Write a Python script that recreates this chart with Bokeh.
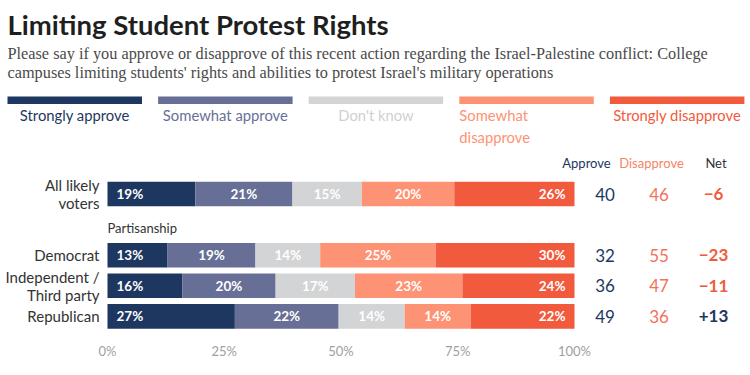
from bokeh.plotting import figure
from bokeh.models import Range1d, ColumnDataSource
from bokeh.core.properties import value
from bokeh.embed import file_html
from bokeh.resources import INLINE

# ---------------- data ----------------
groups = ["All likely voters", "Democrat", "Independent / Third party", "Republican"]
group_labels = ["All likely\nvoters", "Democrat", "Independent /\nThird party", "Republican"]
responses = ["Strongly approve", "Somewhat approve", "Don't know",
             "Somewhat disapprove", "Strongly disapprove"]
strongly_approve = [19, 13, 16, 27]
somewhat_approve = [21, 19, 20, 22]
dont_know = [15, 14, 17, 14]
somewhat_disapprove = [20, 25, 23, 14]
strongly_disapprove = [26, 30, 24, 22]
approve_total = [40, 32, 36, 49]
disapprove_total = [46, 55, 47, 36]
net = [-6, -23, -11, 13]
ticks = [0, 25, 50, 75, 100]
tick_labels = ["0%", "25%", "50%", "75%", "100%"]
title = "Limiting Student Protest Rights"
subtitle = ["Please say if you approve or disapprove of this recent action regarding the Israel-Palestine conflict: College",
            "campuses limiting students' rights and abilities to protest Israel's military operations"]
subhead = "Partisanship"

# ---------------- style / layout ----------------
colors = ["#1e3761", "#676f97", "#d3d4d5", "#fd9274", "#f15a3c"]
legend_text_colors = ["#1e3761", "#676f97", "#d0d0d0", "#fd9274", "#f15a3c"]
NAVY = "#1e3761"
RED = "#f15a3c"
SALMON = "#f2725a"
SANS = value("Lato")
SERIF = value("Liberation Serif")

W, H = 750, 375
X0, PXU = 107, 4.67          # pixel of 0 %, pixels per %
Y0, ROW = 193.5, 30.6        # pixel of slot 0, pixels per slot
row_slot = [0, 2, 3, 4]      # slot 1 carries the "Partisanship" subhead
BAR_H = 24.6 / ROW
PAD = 9 / PXU

p = figure(width=W, height=H, output_backend="svg", toolbar_location=None,
           x_range=Range1d(-X0 / PXU, (W - X0) / PXU),
           y_range=Range1d((H - Y0) / ROW, -Y0 / ROW),
           min_border=0, outline_line_color=None,
           x_axis_location=None, y_axis_location=None, title=None)
p.extra_x_ranges = {"px": Range1d(0, W)}
p.extra_y_ranges = {"px": Range1d(H, 0)}
p.xgrid.visible = False
p.ygrid.visible = False
p.background_fill_color = "white"
p.border_fill_color = "white"

series = [strongly_approve, somewhat_approve, dont_know, somewhat_disapprove, strongly_disapprove]
totals = [sum(s[i] for s in series) for i in range(len(groups))]

# ---- stacked bars ----
lab_x, lab_y, lab_t, lab_a = [], [], [], []
cum = [0.0] * len(groups)
for k, (resp, vals) in enumerate(zip(responses, series)):
    left = [cum[i] for i in range(len(groups))]
    right = [cum[i] + vals[i] * 100 / totals[i] for i in range(len(groups))]
    cum = right
    p.hbar(y=row_slot, left=left, right=right, height=BAR_H,
           fill_color=colors[k], line_color=None)
    for i in range(len(groups)):
        if k == 0:
            lab_x.append(left[i] + PAD); lab_a.append("left")
        elif k == len(series) - 1:
            lab_x.append(right[i] - PAD); lab_a.append("right")
        else:
            lab_x.append((left[i] + right[i]) / 2); lab_a.append("center")
        lab_y.append(row_slot[i])
        lab_t.append(f"{vals[i]}%")

p.text(x="x", y="y", text="t", text_align="a",
       source=ColumnDataSource(dict(x=lab_x, y=lab_y, t=lab_t, a=lab_a)),
       text_baseline="middle", text_color="white", text_font=SANS,
       text_font_size="13.5px", text_font_style="bold")

# ---- row labels ----
p.text(x=[X0 - 8] * len(groups), y=row_slot, text=group_labels,
       x_range_name="px", text_align="right", text_baseline="middle",
       text_color="#333333", text_font=SANS, text_font_size="15px",
       text_line_height=1.0)
p.text(x=[X0], y=[227], text=[subhead], x_range_name="px", y_range_name="px",
       text_align="left", text_baseline="middle", text_color="#333333",
       text_font=SANS, text_font_size="13px")

# ---- value columns ----
col_hdr = ["Approve", "Disapprove", "Net"]
col_hdr_x = [586, 651, 715.5]
col_hdr_c = [NAVY, "#f58468", "#333333"]
p.text(x=col_hdr_x, y=[162.7] * 3, text=col_hdr, x_range_name="px", y_range_name="px",
       text_align="center", text_baseline="middle", text_color=col_hdr_c,
       text_font=SANS, text_font_size="13px")
p.text(x=[604.5] * len(groups), y=row_slot, text=[str(v) for v in approve_total],
       x_range_name="px", text_align="center", text_baseline="middle",
       text_color=NAVY, text_font=SANS, text_font_size="17px")
p.text(x=[658.5] * len(groups), y=row_slot, text=[str(v) for v in disapprove_total],
       x_range_name="px", text_align="center", text_baseline="middle",
       text_color=SALMON, text_font=SANS, text_font_size="17px")
p.text(x=[713] * len(groups), y=row_slot,
       text=[("+" if v > 0 else "\u2212") + str(abs(v)) for v in net],
       text_color=[NAVY if v > 0 else RED for v in net],
       x_range_name="px", text_align="center", text_baseline="middle",
       text_font=SANS, text_font_size="17px", text_font_style="bold")

# ---- x tick labels ----
p.text(x=ticks, y=[350.5] * len(ticks), text=tick_labels, y_range_name="px",
       text_align="center", text_baseline="middle", text_color="#a0a0a0",
       text_font=SANS, text_font_size="13px")

# ---- title / subtitle ----
p.text(x=[7], y=[24], text=[title], x_range_name="px", y_range_name="px",
       text_align="left", text_baseline="alphabetic", text_color="#1f1f1f",
       text_font=SANS, text_font_size="27.5px", text_font_style="bold")
p.text(x=[7, 7], y=[52.5, 71.5], text=subtitle, x_range_name="px", y_range_name="px",
       text_align="left", text_baseline="alphabetic", text_color="#4a4a4a",
       text_font=SERIF, text_font_size="16.3px")

# ---- legend ----
leg_left = [7 + 150.6 * k for k in range(len(responses))]
leg_w = 134.5
p.quad(left=leg_left, right=[l + leg_w for l in leg_left], top=[96] * 5, bottom=[103.5] * 5,
       fill_color=colors, line_color=None, x_range_name="px", y_range_name="px")
leg_text = ["Strongly approve", "Somewhat approve", "Don't know",
            "Somewhat\ndisapprove", "Strongly disapprove"]
leg_align = ["center", "center", "center", "left", "center"]
leg_x = [l + leg_w / 2 if a == "center" else l for l, a in zip(leg_left, leg_align)]
p.text(x=leg_x, y=[105.5] * 5, text=leg_text, text_align=leg_align,
       x_range_name="px", y_range_name="px", text_baseline="top",
       text_color=legend_text_colors, text_font=SANS, text_font_size="14.8px",
       text_line_height=1.2)

open("out.html", "w").write(file_html(p, INLINE))
